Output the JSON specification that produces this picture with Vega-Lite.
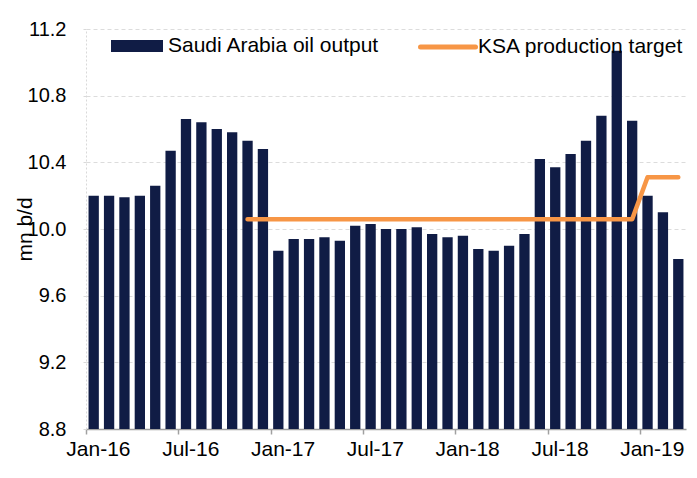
{
  "$schema": "https://vega.github.io/schema/vega-lite/v6.json",
  "width": 600,
  "height": 400,
  "autosize": {"type": "none"},
  "padding": {"left": 86, "top": 29, "right": 11, "bottom": 49},
  "background": "#ffffff",
  "config": {
    "view": {"stroke": null},
    "font": "Liberation Sans",
    "axis": {"labelFont": "Liberation Sans", "titleFont": "Liberation Sans", "labelColor": "#000000", "titleColor": "#000000"},
    "legend": {"labelFont": "Liberation Sans", "labelColor": "#000000"}
  },
  "data": {
    "values": [
      {"month": "Jan-16", "output": 10.20, "target": null, "s1": "Saudi Arabia oil output", "s2": "KSA production target"},
      {"month": "Feb-16", "output": 10.20, "target": null, "s1": "Saudi Arabia oil output", "s2": "KSA production target"},
      {"month": "Mar-16", "output": 10.19, "target": null, "s1": "Saudi Arabia oil output", "s2": "KSA production target"},
      {"month": "Apr-16", "output": 10.20, "target": null, "s1": "Saudi Arabia oil output", "s2": "KSA production target"},
      {"month": "May-16", "output": 10.26, "target": null, "s1": "Saudi Arabia oil output", "s2": "KSA production target"},
      {"month": "Jun-16", "output": 10.47, "target": null, "s1": "Saudi Arabia oil output", "s2": "KSA production target"},
      {"month": "Jul-16", "output": 10.66, "target": null, "s1": "Saudi Arabia oil output", "s2": "KSA production target"},
      {"month": "Aug-16", "output": 10.64, "target": null, "s1": "Saudi Arabia oil output", "s2": "KSA production target"},
      {"month": "Sep-16", "output": 10.60, "target": null, "s1": "Saudi Arabia oil output", "s2": "KSA production target"},
      {"month": "Oct-16", "output": 10.58, "target": null, "s1": "Saudi Arabia oil output", "s2": "KSA production target"},
      {"month": "Nov-16", "output": 10.53, "target": 10.058, "s1": "Saudi Arabia oil output", "s2": "KSA production target"},
      {"month": "Dec-16", "output": 10.48, "target": 10.058, "s1": "Saudi Arabia oil output", "s2": "KSA production target"},
      {"month": "Jan-17", "output": 9.87, "target": 10.058, "s1": "Saudi Arabia oil output", "s2": "KSA production target"},
      {"month": "Feb-17", "output": 9.94, "target": 10.058, "s1": "Saudi Arabia oil output", "s2": "KSA production target"},
      {"month": "Mar-17", "output": 9.94, "target": 10.058, "s1": "Saudi Arabia oil output", "s2": "KSA production target"},
      {"month": "Apr-17", "output": 9.95, "target": 10.058, "s1": "Saudi Arabia oil output", "s2": "KSA production target"},
      {"month": "May-17", "output": 9.93, "target": 10.058, "s1": "Saudi Arabia oil output", "s2": "KSA production target"},
      {"month": "Jun-17", "output": 10.02, "target": 10.058, "s1": "Saudi Arabia oil output", "s2": "KSA production target"},
      {"month": "Jul-17", "output": 10.03, "target": 10.058, "s1": "Saudi Arabia oil output", "s2": "KSA production target"},
      {"month": "Aug-17", "output": 10.00, "target": 10.058, "s1": "Saudi Arabia oil output", "s2": "KSA production target"},
      {"month": "Sep-17", "output": 10.00, "target": 10.058, "s1": "Saudi Arabia oil output", "s2": "KSA production target"},
      {"month": "Oct-17", "output": 10.01, "target": 10.058, "s1": "Saudi Arabia oil output", "s2": "KSA production target"},
      {"month": "Nov-17", "output": 9.97, "target": 10.058, "s1": "Saudi Arabia oil output", "s2": "KSA production target"},
      {"month": "Dec-17", "output": 9.95, "target": 10.058, "s1": "Saudi Arabia oil output", "s2": "KSA production target"},
      {"month": "Jan-18", "output": 9.96, "target": 10.058, "s1": "Saudi Arabia oil output", "s2": "KSA production target"},
      {"month": "Feb-18", "output": 9.88, "target": 10.058, "s1": "Saudi Arabia oil output", "s2": "KSA production target"},
      {"month": "Mar-18", "output": 9.87, "target": 10.058, "s1": "Saudi Arabia oil output", "s2": "KSA production target"},
      {"month": "Apr-18", "output": 9.90, "target": 10.058, "s1": "Saudi Arabia oil output", "s2": "KSA production target"},
      {"month": "May-18", "output": 9.97, "target": 10.058, "s1": "Saudi Arabia oil output", "s2": "KSA production target"},
      {"month": "Jun-18", "output": 10.42, "target": 10.058, "s1": "Saudi Arabia oil output", "s2": "KSA production target"},
      {"month": "Jul-18", "output": 10.37, "target": 10.058, "s1": "Saudi Arabia oil output", "s2": "KSA production target"},
      {"month": "Aug-18", "output": 10.45, "target": 10.058, "s1": "Saudi Arabia oil output", "s2": "KSA production target"},
      {"month": "Sep-18", "output": 10.53, "target": 10.058, "s1": "Saudi Arabia oil output", "s2": "KSA production target"},
      {"month": "Oct-18", "output": 10.68, "target": 10.058, "s1": "Saudi Arabia oil output", "s2": "KSA production target"},
      {"month": "Nov-18", "output": 11.07, "target": 10.058, "s1": "Saudi Arabia oil output", "s2": "KSA production target"},
      {"month": "Dec-18", "output": 10.65, "target": 10.058, "s1": "Saudi Arabia oil output", "s2": "KSA production target"},
      {"month": "Jan-19", "output": 10.20, "target": 10.311, "s1": "Saudi Arabia oil output", "s2": "KSA production target"},
      {"month": "Feb-19", "output": 10.10, "target": 10.311, "s1": "Saudi Arabia oil output", "s2": "KSA production target"},
      {"month": "Mar-19", "output": 9.82, "target": 10.311, "s1": "Saudi Arabia oil output", "s2": "KSA production target"}
    ]
  },
  "encoding": {
    "x": {
      "field": "month",
      "type": "ordinal",
      "sort": null,
      "scale": {"paddingInner": 0.33, "paddingOuter": 0.165},
      "axis": {
        "title": null,
        "values": ["Jan-16", "Jul-16", "Jan-17", "Jul-17", "Jan-18", "Jul-18", "Jan-19"],
        "labelAngle": 0,
        "bandPosition": 0,
        "tickOffset": -2.55,
        "labelOffset": 6.8,
        "labelFontSize": 21,
        "labelPadding": 4,
        "tickSize": 5,
        "tickColor": "#a0a0a0",
        "tickWidth": 1.5,
        "domainColor": "#a0a0a0",
        "domainWidth": 1.5,
        "grid": false
      }
    }
  },
  "layer": [
    {
      "mark": {"type": "bar", "color": "#101c45", "clip": true},
      "encoding": {
        "y": {
          "field": "output",
          "type": "quantitative",
          "scale": {"domain": [8.8, 11.2], "zero": false, "nice": false},
          "axis": {
            "title": "mn b/d",
            "titleFontSize": 21,
            "titleFontWeight": "normal",
            "titlePadding": -8,
            "values": [8.8, 9.2, 9.6, 10.0, 10.4, 10.8, 11.2],
            "format": ".1f",
            "labelFontSize": 20,
            "labelPadding": 14,
            "tickSize": 6,
            "tickColor": "#d9d9d9",
            "tickDash": [3, 3],
            "domainColor": "#d9d9d9",
            "domainDash": [2, 2],
            "grid": true,
            "gridColor": "#dcdcdc",
            "gridDash": [4, 3],
            "gridWidth": 1
          }
        },
        "fill": {
          "field": "s1",
          "type": "nominal",
          "scale": {"range": ["#101c45"]},
          "legend": {
            "title": null,
            "orient": "none",
            "legendX": 25,
            "legendY": -9,
            "padding": 0,
            "symbolType": "M-1,-0.23L1,-0.23L1,0.23L-1,0.23Z",
            "symbolSize": 2704,
            "symbolStrokeWidth": 0,
            "labelFontSize": 21,
            "labelOffset": 5,
            "labelLimit": 400
          }
        }
      }
    },
    {
      "mark": {"type": "line", "color": "#f79646", "strokeWidth": 4.5, "strokeCap": "round", "strokeJoin": "round"},
      "encoding": {
        "y": {"field": "target", "type": "quantitative"},
        "stroke": {
          "field": "s2",
          "type": "nominal",
          "scale": {"range": ["#f79646"]},
          "legend": {
            "title": null,
            "orient": "none",
            "legendX": 332,
            "legendY": -12,
            "padding": 0,
            "symbolType": "stroke",
            "symbolSize": 3025,
            "symbolStrokeWidth": 5,
            "labelFontSize": 21,
            "labelOffset": 0,
            "labelLimit": 400,
            "encode": {"symbols": {"update": {"strokeCap": {"value": "round"}}}}
          }
        }
      }
    }
  ]
}
